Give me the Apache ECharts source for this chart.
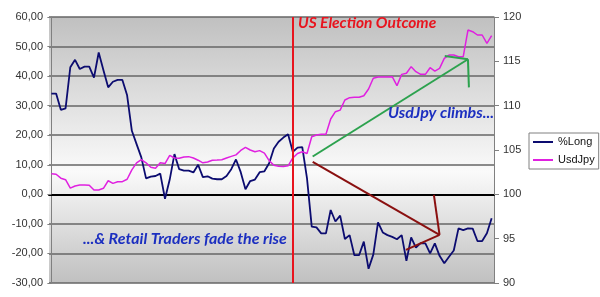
<!DOCTYPE html>
<html><head><meta charset="utf-8">
<script src="https://cdn.jsdelivr.net/npm/echarts@6/dist/echarts.min.js"></script>
<style>html,body{margin:0;padding:0;background:#fff}#c{width:600px;height:297px}</style>
</head><body><div id="c"></div>
<script>
var pctLong = [34.1,34.1,28.6,29.1,43.0,45.5,42.4,43.2,43.2,39.5,48.0,42.0,36.2,38.1,38.7,38.7,33.5,21.5,17.0,12.5,
5.4,6.0,6.2,7.0,-1.5,5.0,13.6,8.5,8.0,8.0,7.4,10.0,5.8,6.1,5.3,5.1,5.1,6.2,8.5,11.8,
7.5,1.7,4.5,5.0,7.5,7.8,10.5,15.5,17.8,19.2,20.3,14.4,15.8,16.0,5.4,-10.9,-11.2,-13.2,-13.2,-5.3,
-9.2,-7.2,-15.1,-13.8,-20.6,-20.6,-16.0,-25.2,-20.4,-9.5,-12.9,-13.8,-14.4,-15.2,-13.8,-22.5,-14.6,-18.0,-16.5,-16.6,
-20.0,-16.6,-20.8,-23.3,-21.1,-19.0,-11.5,-12.1,-11.5,-11.6,-15.8,-15.8,-13.2,-8.1];
var usdJpy = [102.33,102.26,101.82,101.65,100.70,100.94,101.05,101.05,101.03,100.49,100.49,100.68,101.53,101.24,101.42,101.43,101.70,102.76,103.55,103.92,
103.56,103.05,102.94,103.55,103.47,104.40,104.10,104.06,104.20,104.25,104.10,103.85,103.55,103.65,103.85,103.87,103.90,104.10,104.28,104.45,
104.95,105.30,105.00,104.81,104.93,104.65,103.80,103.27,103.18,103.13,103.22,104.10,104.60,104.80,104.60,106.50,106.70,106.77,106.77,108.50,
109.32,109.50,110.64,110.90,110.94,110.94,111.12,111.88,113.09,113.23,113.23,113.23,113.27,112.25,113.53,113.65,114.40,113.83,113.53,113.53,
114.28,113.90,114.20,115.34,115.71,115.71,115.52,115.52,118.53,118.34,117.97,117.97,117.03,117.90];
var leftTicks = {min: -30, max: 60, interval: 10};
var rightTicks = {min: 90, max: 120, interval: 5};
var electionIndex = 50.9;
// annotation arrows in data units [index, %Long value]
var greenArrow = [[[55.2,12.8],[88.0,45.7]],[[83.1,46.8],[88.0,45.7]],[[88.0,45.7],[88.2,36.2]]];
var redArrow = [[[55.2,11.0],[82.0,-13.7]],[[80.8,-0.2],[82.0,-13.7]],[[82.0,-13.7],[74.9,-18.8]]];
var texts = ["US Election Outcome","UsdJpy climbs...","...& Retail Traders fade the rise"];

var chart = echarts.init(document.getElementById('c'), null, {renderer:'canvas'});
var N = pctLong.length;
function pts(a){return a.map(function(v,i){return [i,v];});}
var series = [
 {name:'%Long', type:'line', data:pts(pctLong), yAxisIndex:0, showSymbol:false, symbol:'none',
  lineStyle:{color:'#0c0c70', width:1.8}, itemStyle:{color:'#0c0c70'}, z:3,
  markLine:{silent:true, symbol:'none', animation:false, label:{show:false},
   lineStyle:{color:'#e8141e', width:2, type:'solid'}, data:[{xAxis:electionIndex}]}},
 {name:'UsdJpy', type:'line', data:pts(usdJpy), yAxisIndex:1, showSymbol:false, symbol:'none',
  lineStyle:{color:'#e020e0', width:1.5}, itemStyle:{color:'#e020e0'}, z:3}
];
greenArrow.forEach(function(s){series.push({type:'line', data:s, yAxisIndex:0, symbol:'none', silent:true, lineStyle:{color:'#2ca24e', width:2}, z:4});});
redArrow.forEach(function(s){series.push({type:'line', data:s, yAxisIndex:0, symbol:'none', silent:true, lineStyle:{color:'#8a1010', width:2}, z:4});});

var font = 'Lato';
chart.setOption({
 animation:false,
 grid:{left:49, right:106, top:17, bottom:14, show:true, borderWidth:0,
  backgroundColor:{type:'linear', x:0, y:0, x2:0, y2:1, colorStops:[
   {offset:0, color:'#c0c0c0'},{offset:0.58, color:'#fafafa'},{offset:1, color:'#c0c0c0'}]}},
 xAxis:{type:'value', min:-0.5, max:N-0.5, axisLabel:{show:false}, axisTick:{show:false}, splitLine:{show:false},
  axisLine:{show:true, onZero:true, lineStyle:{color:'#000', width:2}}},
 yAxis:[
  {type:'value', min:leftTicks.min, max:leftTicks.max, interval:leftTicks.interval, position:'left',
   axisLine:{show:true, lineStyle:{color:'#808080', width:1}},
   axisTick:{show:true, length:4, lineStyle:{color:'#808080'}},
   splitLine:{show:true, lineStyle:{color:'#666', width:1.5}},
   axisLabel:{margin:6, color:'#333', fontSize:11, fontFamily:'Liberation Sans, Arial',
    formatter:function(v){return v.toFixed(2).replace('.',',');}}},
  {type:'value', min:rightTicks.min, max:rightTicks.max, interval:rightTicks.interval, position:'right',
   axisLine:{show:true, lineStyle:{color:'#808080', width:1}},
   axisTick:{show:true, length:5, lineStyle:{color:'#808080'}},
   splitLine:{show:false},
   axisLabel:{margin:9, color:'#333', fontSize:11, fontFamily:'Liberation Sans, Arial'}}
 ],
 legend:{data:['%Long','UsdJpy'], orient:'vertical', left:529, top:133, padding:[2,4,2,4], itemGap:4,
  itemWidth:20, itemHeight:2, icon:'rect', borderColor:'#808080', borderWidth:1, backgroundColor:'#fff',
  textStyle:{fontSize:11, fontFamily:'Liberation Sans, Arial', color:'#111', lineHeight:14}},
 graphic:[
  {type:'text', left:298, top:15, z:10, style:{text:texts[0], fill:'#e8141e', font:'italic bold 15.5px '+font}},
  {type:'text', left:388, top:105, z:10, style:{text:texts[1], fill:'#1c2fc0', font:'italic bold 16px '+font}},
  {type:'text', left:83, top:231, z:10, style:{text:texts[2], fill:'#1c2fc0', font:'italic bold 16px '+font}}
 ],
 series:series
});
</script></body></html>
